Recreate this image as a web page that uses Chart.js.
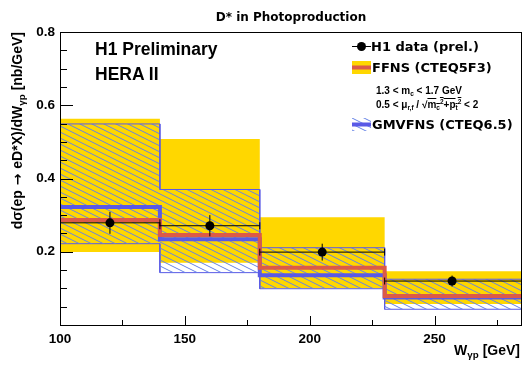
<!DOCTYPE html>
<html><head><meta charset="utf-8">
<script src="https://cdn.jsdelivr.net/npm/chart.js@4.4.1/dist/chart.umd.min.js"></script>
<style>
html,body{margin:0;padding:0;background:#fff;}
#wrap{position:relative;width:532px;height:370px;overflow:hidden;background:#fff;}
#c{position:absolute;left:0;top:0;}
.t{position:absolute;white-space:nowrap;color:#000;line-height:1;}
.b{font-family:"DejaVu Sans",sans-serif;font-weight:bold;}
.l{font-family:"Liberation Sans",Arial,sans-serif;font-weight:bold;}
sub.s{font-size:0.7em;vertical-align:-0.35em;line-height:0;}
.m sub,.m sup{font-size:0.65em;line-height:0;}
.m sub{vertical-align:-0.3em;}
.m sup{vertical-align:0.55em;}
.ov{text-decoration:overline;text-decoration-thickness:1px;}
.sym{position:absolute;}
</style></head><body>
<div id="wrap">
<canvas id="c" width="532" height="370"></canvas>
<div class="t b" style="left:0;width:582px;top:11px;font-size:12px;text-align:center;">D* in Photoproduction</div>
<div class="t l" style="left:95px;top:41px;font-size:17.5px;">H1 Preliminary</div>
<div class="t l" style="left:95px;top:66px;font-size:17.5px;">HERA II</div>
<canvas class="sym" id="lg1" width="21" height="13" style="left:351px;top:40px;"></canvas>
<div class="t b" style="left:371px;top:40px;font-size:13px;">H1 data (prel.)</div>
<canvas class="sym" id="lg2" width="19" height="13" style="left:352px;top:61px;"></canvas>
<div class="t b" style="left:372px;top:60.7px;font-size:13px;">FFNS (CTEQ5F3)</div>
<div class="t l m" style="left:376px;top:86px;font-size:10px;">1.3 &lt; m<sub>c</sub> &lt; 1.7 GeV</div>
<div class="t l m" style="left:376px;top:100px;font-size:10px;">0.5 &lt; μ<sub>r,f</sub> / √<span class="ov">m<sub>c</sub><sup>2</sup>+p<sub>t</sub><sup>2</sup></span> &lt; 2</div>
<canvas class="sym" id="lg3" width="19" height="13" style="left:352px;top:118px;"></canvas>
<div class="t b" style="left:372px;top:118px;font-size:13px;">GMVFNS (CTEQ6.5)</div>
<div class="t l" style="left:10px;top:292px;width:260px;font-size:14px;line-height:14px;text-align:right;transform-origin:0 0;transform:rotate(-90deg);">dσ(ep<span style="font-family:'DejaVu Sans';"> → </span>eD*X)/dW<sub class="s">γp</sub> [nb/GeV]</div>
<div class="t l" style="right:12px;top:343px;font-size:14px;">W<sub class="s">γp</sub> [GeV]</div>
</div>
<script>
// ---- data ----
const binEdges = [100, 140, 180, 230, 285];
const dataX = [120, 160, 205, 257];
const dataY = [0.279, 0.271, 0.199, 0.120];
const dataErr = [0.030, 0.029, 0.023, 0.015];
const ffnsCentral = [0.287, 0.246, 0.156, 0.079];
const ffnsHigh = [0.563, 0.508, 0.294, 0.147];
const ffnsLow = [0.199, 0.170, 0.100, 0.057];
const gmvfnsCentral = [0.322, 0.234, 0.136, 0.075];
const gmvfnsHigh = [0.549, 0.370, 0.211, 0.125];
const gmvfnsLow = [0.222, 0.143, 0.099, 0.043];
const xTickValues = [100, 125, 150, 175, 200, 225, 250, 275];
const xTickLabels = [100, 150, 200, 250];
const yTickValues = [0, 0.05, 0.1, 0.15, 0.2, 0.25, 0.3, 0.35, 0.4, 0.45, 0.5, 0.55, 0.6, 0.65, 0.7, 0.75, 0.8];
const yTickLabels = [0.2, 0.4, 0.6, 0.8];

const YELLOW = '#ffd700', RED = '#dc5a48', BLUE = '#5a5ae6', HATCH = '#6482e6';

function stepPoints(vals) {
  const pts = [];
  vals.forEach((v, i) => { pts.push({x: binEdges[i], y: v}); pts.push({x: binEdges[i + 1], y: v}); });
  return pts;
}
function makeHatch(ctxSrc) {
  const c = document.createElement('canvas'); c.width = 12; c.height = 6;
  const g = c.getContext('2d'); g.strokeStyle = HATCH; g.lineWidth = 1;
  g.beginPath();
  for (const k of [-1, 0, 1]) { g.moveTo(-2, -1 + 6 * k); g.lineTo(14, 7 + 6 * k); }
  g.stroke();
  return ctxSrc.createPattern(c, 'repeat');
}
const canvas = document.getElementById('c');
const ctx = canvas.getContext('2d');
const hatch = makeHatch(ctx);

const vErr = [], hErr = [];
dataX.forEach((x, i) => {
  vErr.push({x, y: dataY[i] - dataErr[i]}, {x, y: dataY[i] + dataErr[i]}, {x, y: null});
  hErr.push({x: binEdges[i], y: dataY[i]}, {x: binEdges[i + 1], y: dataY[i]}, {x: binEdges[i + 1], y: null});
});
const markers = dataX.map((x, i) => ({x, y: dataY[i]}));

const near = (arr, v) => arr.some(a => Math.abs(a - v) < 1e-6);

const frameTicks = {
  id: 'frameTicks',
  afterDraw(chart) {
    const {ctx, chartArea: a, scales: {x, y}} = chart;
    ctx.save();
    ctx.strokeStyle = '#000'; ctx.lineWidth = 1;
    ctx.beginPath();
    yTickValues.forEach(v => {
      const py = Math.round(y.getPixelForValue(v)) + 0.5;
      const len = near(yTickLabels, v) ? 13 : 7;
      ctx.moveTo(a.left, py); ctx.lineTo(a.left + len, py);
    });
    xTickValues.forEach(v => {
      const px = Math.round(x.getPixelForValue(v)) + 0.5;
      const len = near(xTickLabels, v) ? 9 : 5;
      ctx.moveTo(px, a.bottom); ctx.lineTo(px, a.bottom - len);
    });
    ctx.stroke();
    ctx.strokeRect(a.left + 0.5, a.top + 0.5, a.right - a.left - 1, a.bottom - a.top);
    ctx.restore();
  }
};

const tickFont = {family: '"Liberation Sans", Arial, sans-serif', weight: 'bold', size: 13.5};

new Chart(ctx, {
  type: 'line',
  data: {
    datasets: [
      {label: 'H1 data', data: markers, showLine: false, pointRadius: 4.5, pointBackgroundColor: '#000', pointBorderColor: '#000', borderWidth: 0},
      {label: 'verr', data: vErr, borderColor: '#000', borderWidth: 1, pointRadius: 0, spanGaps: false},
      {label: 'herr', data: hErr, borderColor: '#000', borderWidth: 1, pointRadius: 3.5, pointStyle: 'line', rotation: 90, pointBorderColor: '#000', pointBorderWidth: 1, spanGaps: false},
      {label: 'FFNS', data: stepPoints(ffnsCentral), borderColor: RED, borderWidth: 4, pointRadius: 0},
      {label: 'GMVFNS', data: stepPoints(gmvfnsCentral), borderColor: BLUE, borderWidth: 4, pointRadius: 0},
      {label: 'GMVFNS high', data: stepPoints(gmvfnsHigh), borderColor: BLUE, borderWidth: 1, pointRadius: 0, fill: '+1', backgroundColor: hatch},
      {label: 'GMVFNS low', data: stepPoints(gmvfnsLow), borderColor: BLUE, borderWidth: 1, pointRadius: 0},
      {label: 'FFNS high', data: stepPoints(ffnsHigh), borderColor: 'transparent', borderWidth: 0, pointRadius: 0, fill: '+1', backgroundColor: YELLOW},
      {label: 'FFNS low', data: stepPoints(ffnsLow), borderColor: 'transparent', borderWidth: 0, pointRadius: 0}
    ]
  },
  options: {
    responsive: false, animation: false, events: [],
    layout: {padding: {top: 32, right: 10, left: 0, bottom: 0}},
    elements: {line: {tension: 0}},
    plugins: {legend: {display: false}, tooltip: {enabled: false}, title: {display: false}},
    scales: {
      x: {
        type: 'linear', min: 100, max: 285,
        afterBuildTicks(s) { s.ticks = xTickValues.map(v => ({value: v})); },
        afterFit(s) { s.height = 45; },
        grid: {display: false, drawTicks: false}, border: {display: false},
        ticks: {autoSkip: false, maxRotation: 0, padding: 6, color: '#000', font: tickFont,
          callback: v => near(xTickLabels, v) ? String(v) : ''}
      },
      y: {
        type: 'linear', min: 0, max: 0.8,
        afterBuildTicks(s) { s.ticks = yTickValues.map(v => ({value: v})); },
        afterFit(s) { s.width = 60; },
        grid: {display: false, drawTicks: false}, border: {display: false},
        ticks: {autoSkip: false, padding: 5, color: '#000', font: tickFont,
          callback: v => (near(yTickLabels, v) ? v.toFixed(1) : '')}
      }
    }
  },
  plugins: [frameTicks]
});

// legend symbols
(function () {
  let g = document.getElementById('lg1').getContext('2d');
  g.strokeStyle = '#000'; g.lineWidth = 1;
  g.beginPath(); g.moveTo(1, 6.5); g.lineTo(20, 6.5); g.stroke();
  g.fillStyle = '#000'; g.beginPath(); g.arc(10.5, 6.5, 4.5, 0, Math.PI * 2); g.fill();
  g = document.getElementById('lg2').getContext('2d');
  g.fillStyle = YELLOW; g.fillRect(0, 0, 19, 13);
  g.fillStyle = RED; g.fillRect(0, 4.5, 19, 4);
  const c3 = document.getElementById('lg3'); g = c3.getContext('2d');
  g.fillStyle = makeHatch(g); g.fillRect(0, 0, 19, 13);
  g.fillStyle = BLUE; g.fillRect(0, 4.5, 19, 4);
})();
</script>
</body></html>
